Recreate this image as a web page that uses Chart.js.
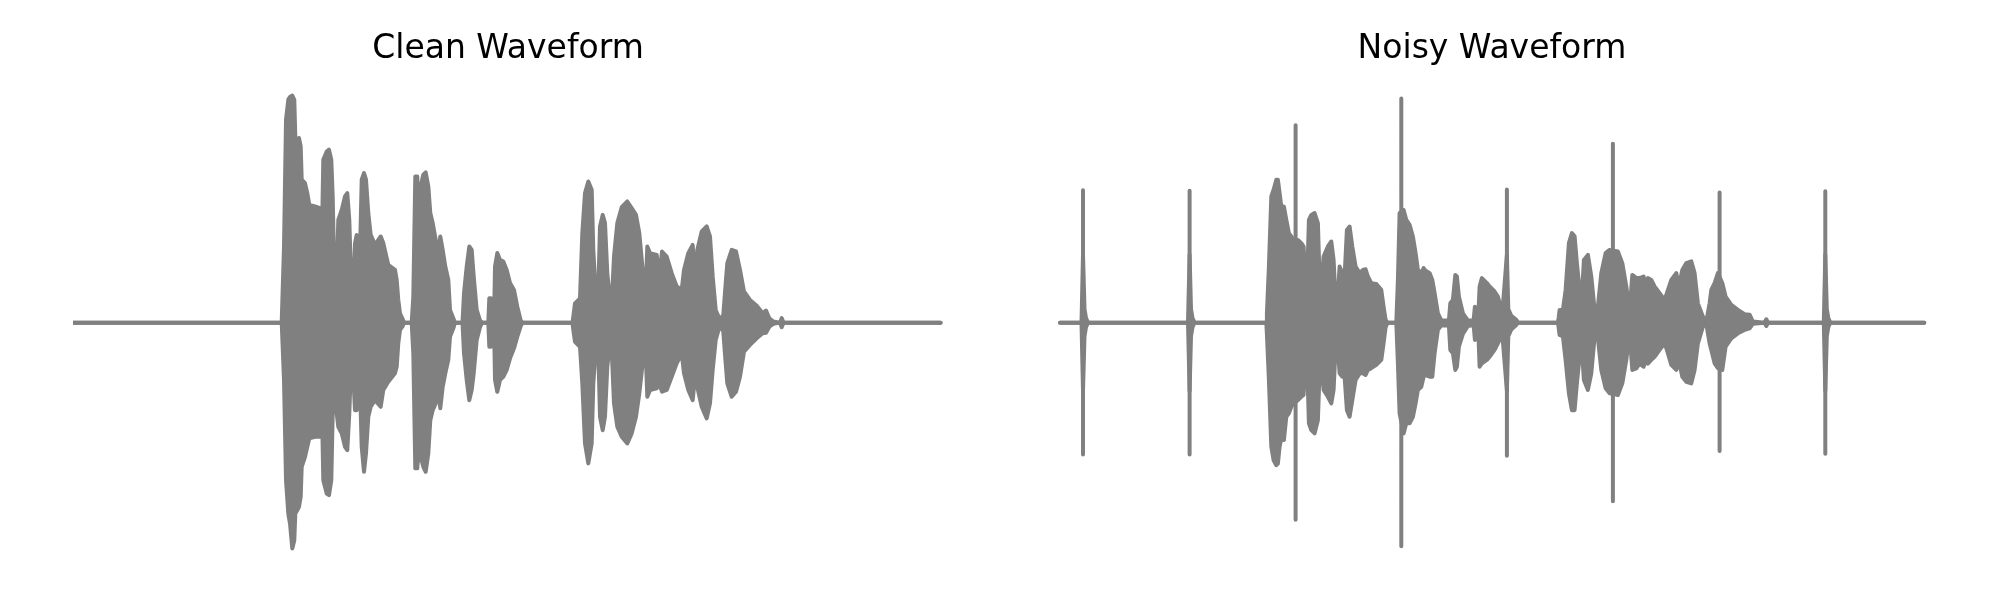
<!DOCTYPE html>
<html>
<head>
<meta charset="utf-8">
<script src="https://cdn.jsdelivr.net/npm/chart.js@4.4.1/dist/chart.umd.min.js"></script>
<style>
  html, body { margin: 0; padding: 0; background: #ffffff; }
  #wrap { position: relative; width: 2000px; height: 600px; background: #ffffff; overflow: hidden; }
  canvas { position: absolute; top: 0; }
</style>
</head>
<body>
<div id="wrap">
  <canvas id="clean" width="870" height="600" style="left:73px"></canvas>
  <canvas id="noisy" width="870" height="600" style="left:1057px"></canvas>
</div>
<script>
// ---- Clean waveform envelope (time in frames, normalized amplitude) ----
const cleanT = [1, 208.7, 211, 213, 215.3, 217, 219.3, 221.3, 222.3, 224.3, 226, 227.7, 228.7, 232, 234.3, 236.3, 242, 247, 248.3, 250.3, 253.7, 256, 258.3, 259.7, 261.3, 263.7, 265.3, 268.7, 272, 274.3, 276.3, 278.3, 280.3, 282, 283.7, 285.7, 287, 288.7, 291, 293, 295.3, 297.7, 302, 307.7, 310.3, 315.3, 322, 323.7, 325.3, 327, 329.7, 331, 338.7, 340.3, 342.3, 344.3, 345.3, 347.7, 350.3, 352.7, 355.3, 357.3, 359.7, 362.7, 365.3, 367.3, 369.7, 372.3, 375.3, 377, 380.3, 382, 389.5, 391, 393.7, 396.3, 398.7, 400.7, 403.7, 407, 409, 415.3, 416.3, 418, 419.3, 421, 422, 424.3, 427, 430.3, 433.7, 437, 441, 444.3, 447.7, 449.5, 499.5, 500.3, 502, 507, 509.3, 512, 515.3, 518.7, 520.3, 523, 525.3, 527, 529.7, 532, 534.3, 537, 538.7, 541, 544.3, 548.7, 554.3, 558.7, 563, 566.3, 569.7, 572.3, 574.3, 577, 583.7, 586.3, 589, 593.7, 598.7, 603.7, 608.7, 611, 615.3, 619.7, 622.3, 624.3, 628.7, 633.7, 637, 639.7, 642.7, 647, 650.3, 652.7, 654.3, 658.7, 663, 667, 671, 677, 683.7, 689.7, 693, 696.3, 700.3, 707, 708.7, 710.5, 867.6];
const cleanUpper = [0, 0, 0.335, 0.893, 0.981, 0.993, 0.999, 0.98, 0.82, 0.775, 0.812, 0.775, 0.629, 0.614, 0.57, 0.518, 0.511, 0.504, 0.218, 0.717, 0.753, 0.761, 0.717, 0.555, 0.218, 0.203, 0.452, 0.496, 0.555, 0.57, 0.452, 0.159, 0.13, 0.35, 0.386, 0.364, 0.306, 0.629, 0.658, 0.629, 0.482, 0.386, 0.342, 0.379, 0.35, 0.254, 0.232, 0.188, 0.1, 0.041, 0.015, 0, 0, 0.115, 0.643, 0.643, 0.452, 0.6, 0.651, 0.661, 0.6, 0.482, 0.438, 0.364, 0.306, 0.379, 0.32, 0.247, 0.188, 0.056, 0.019, 0, 0, 0.13, 0.247, 0.335, 0.32, 0.203, 0.056, 0.01, 0, 0, 0.107, 0.107, 0.01, 0, 0.247, 0.306, 0.276, 0.269, 0.232, 0.174, 0.144, 0.07, 0.01, 0, 0, 0.026, 0.085, 0.107, 0.394, 0.57, 0.621, 0.585, 0.32, 0.107, 0.144, 0.423, 0.474, 0.438, 0.218, 0.1, 0.085, 0.291, 0.438, 0.508, 0.533, 0.504, 0.474, 0.394, 0.232, 0.093, 0.335, 0.306, 0.298, 0.203, 0.313, 0.291, 0.218, 0.159, 0.144, 0.232, 0.306, 0.342, 0.159, 0.32, 0.401, 0.423, 0.379, 0.203, 0.056, 0.012, 0.034, 0.174, 0.262, 0.32, 0.313, 0.232, 0.137, 0.1, 0.074, 0.041, 0.053, 0.019, 0.005, 0, 0.02, 0, 0];
const cleanLower = [0, 0, -0.252, -0.693, -0.84, -0.884, -0.994, -0.957, -0.84, -0.825, -0.81, -0.767, -0.634, -0.59, -0.546, -0.509, -0.502, -0.502, -0.223, -0.693, -0.752, -0.759, -0.693, -0.399, -0.282, -0.399, -0.458, -0.487, -0.546, -0.561, -0.399, -0.15, -0.238, -0.385, -0.385, -0.341, -0.282, -0.546, -0.656, -0.575, -0.414, -0.37, -0.341, -0.37, -0.296, -0.26, -0.223, -0.194, -0.091, -0.032, -0.015, 0, 0, -0.135, -0.641, -0.641, -0.575, -0.59, -0.634, -0.656, -0.575, -0.429, -0.385, -0.355, -0.296, -0.377, -0.282, -0.223, -0.164, -0.062, -0.025, 0, 0, -0.135, -0.252, -0.341, -0.296, -0.223, -0.076, -0.02, 0, 0, -0.106, -0.106, -0.01, 0, -0.252, -0.304, -0.252, -0.238, -0.208, -0.157, -0.113, -0.062, -0.015, 0, 0, -0.032, -0.084, -0.106, -0.267, -0.531, -0.619, -0.531, -0.267, -0.106, -0.12, -0.414, -0.473, -0.414, -0.194, -0.091, -0.12, -0.355, -0.458, -0.502, -0.531, -0.487, -0.414, -0.311, -0.179, -0.084, -0.326, -0.296, -0.289, -0.267, -0.304, -0.296, -0.238, -0.179, -0.135, -0.223, -0.296, -0.341, -0.223, -0.282, -0.37, -0.421, -0.355, -0.208, -0.076, -0.01, -0.04, -0.179, -0.267, -0.326, -0.304, -0.238, -0.128, -0.098, -0.069, -0.047, -0.045, -0.018, -0.005, 0, -0.02, 0, 0];

// ---- Noisy waveform envelope ----
const noisyT = [3, 24.5, 26, 27.5, 29, 31, 131, 132.6, 134, 135.5, 137.5, 209.3, 209.9, 211.9, 214.3, 216.6, 219.3, 220.9, 222.6, 224.3, 226.9, 229.3, 231.9, 234.3, 236.6, 240.9, 244.3, 246.6, 248.6, 249.9, 251.9, 254.3, 257.6, 260.9, 262.6, 264.3, 266.6, 270.9, 274.3, 276.6, 278.6, 280.3, 282.6, 285.3, 287.6, 289.9, 292.6, 295.3, 298.6, 302.6, 305.9, 308.6, 310.9, 314.3, 319.3, 324.3, 326.6, 328.6, 330.5, 339.3, 340.9, 342.6, 346.6, 349.3, 352.6, 355.9, 358.6, 360.9, 364.3, 366.6, 368.3, 372.6, 375.3, 377.6, 380.9, 384.3, 391.9, 393.3, 395.9, 398.3, 399.9, 401.9, 405.9, 410.9, 416.6, 417.9, 419.9, 421, 422.6, 424.9, 429.9, 432.6, 437.6, 440.9, 445.3, 449.9, 451.3, 454.3, 459.3, 461, 500.9, 501.6, 502.6, 505.9, 508.6, 511.9, 514.9, 517.6, 519.9, 524.3, 526.9, 530.9, 534.3, 537.6, 540.9, 544.3, 548.6, 552.6, 560.9, 565.3, 569.3, 572.6, 575.3, 579.3, 582.6, 586.6, 588.6, 590.9, 594.3, 597.6, 602.6, 607.6, 609.9, 614.3, 619.3, 621.9, 625.3, 629.3, 634.3, 637.6, 640.9, 645.9, 649.3, 652.6, 654.3, 657.6, 660.9, 665.3, 668.6, 674.3, 680.9, 687.6, 692.6, 695.9, 707.5, 709.3, 711, 766.8, 768.3, 769.8, 771.3, 773.3, 867.3];
const noisyUpper = [0, 0, 0.3, 0.06, 0.02, 0, 0, 0.3, 0.06, 0.02, 0, 0, 0.041, 0.247, 0.555, 0.585, 0.629, 0.629, 0.57, 0.511, 0.511, 0.452, 0.394, 0.379, 0.364, 0.364, 0.35, 0.335, 0.159, 0.144, 0.452, 0.474, 0.482, 0.438, 0.188, 0.159, 0.291, 0.335, 0.357, 0.276, 0.1, 0.07, 0.247, 0.218, 0.203, 0.408, 0.423, 0.335, 0.247, 0.218, 0.232, 0.235, 0.203, 0.174, 0.17, 0.144, 0.07, 0.012, 0, 0, 0.188, 0.482, 0.496, 0.452, 0.43, 0.379, 0.306, 0.232, 0.218, 0.24, 0.23, 0.218, 0.188, 0.13, 0.041, 0.01, 0.01, 0.085, 0.1, 0.21, 0.203, 0.115, 0.041, 0.01, 0.01, 0.07, 0.005, 0, 0.159, 0.196, 0.174, 0.159, 0.137, 0.115, 0.041, 0.3, 0.06, 0.03, 0.012, 0, 0, 0.02, 0.056, 0.056, 0.144, 0.35, 0.394, 0.38, 0.262, 0.07, 0.276, 0.298, 0.203, 0.056, 0.07, 0.218, 0.306, 0.32, 0.313, 0.262, 0.159, 0.048, 0.21, 0.196, 0.196, 0.203, 0.159, 0.196, 0.188, 0.159, 0.13, 0.1, 0.13, 0.188, 0.218, 0.159, 0.232, 0.262, 0.27, 0.218, 0.085, 0.026, 0.005, 0.085, 0.144, 0.174, 0.218, 0.174, 0.115, 0.078, 0.056, 0.037, 0.035, 0.005, 0, 0.015, 0, 0, 0.3, 0.06, 0.02, 0, 0];
const noisyLower = [0, 0, -0.3, -0.06, -0.02, 0, 0, -0.3, -0.06, -0.02, 0, 0, -0.05, -0.252, -0.546, -0.605, -0.627, -0.62, -0.546, -0.509, -0.516, -0.414, -0.399, -0.37, -0.355, -0.341, -0.326, -0.318, -0.15, -0.135, -0.443, -0.473, -0.487, -0.429, -0.208, -0.18, -0.296, -0.326, -0.355, -0.296, -0.106, -0.076, -0.223, -0.238, -0.238, -0.385, -0.414, -0.341, -0.252, -0.223, -0.223, -0.23, -0.208, -0.2, -0.186, -0.164, -0.091, -0.02, 0, 0, -0.179, -0.399, -0.487, -0.443, -0.443, -0.414, -0.355, -0.296, -0.282, -0.238, -0.23, -0.238, -0.238, -0.135, -0.032, -0.012, -0.012, -0.12, -0.135, -0.208, -0.194, -0.106, -0.05, -0.015, -0.01, -0.076, -0.005, 0, -0.194, -0.179, -0.164, -0.15, -0.12, -0.091, -0.05, -0.3, -0.06, -0.03, -0.01, 0, 0, -0.02, -0.054, -0.06, -0.164, -0.311, -0.385, -0.385, -0.267, -0.076, -0.252, -0.296, -0.223, -0.062, -0.069, -0.208, -0.289, -0.311, -0.318, -0.267, -0.164, -0.047, -0.208, -0.201, -0.18, -0.194, -0.164, -0.18, -0.164, -0.15, -0.12, -0.091, -0.12, -0.186, -0.208, -0.164, -0.238, -0.26, -0.267, -0.208, -0.091, -0.018, -0.005, -0.091, -0.12, -0.179, -0.2, -0.208, -0.106, -0.069, -0.047, -0.032, -0.025, -0.005, 0, -0.015, 0, 0, -0.3, -0.06, -0.02, 0, 0];

// ---- Impulsive clicks in the noisy waveform ----
const spikeT = [26, 132.6, 238.6, 344.3, 449.9, 555.9, 662.6, 768.3];
const spikeUp = [0.582, 0.58, 0.868, 0.986, 0.586, 0.787, 0.572, 0.578];
const spikeDown = [-0.58, -0.58, -0.867, -0.984, -0.585, -0.786, -0.565, -0.577];

const titles = ["Clean Waveform", "Noisy Waveform"];

const GRAY = '#808080';

function zip(t, v) { return t.map((x, i) => ({ x: x, y: v[i] })); }

function spikeSegments(t, up, down) {
  const pts = [];
  t.forEach((x, i) => {
    pts.push({ x: x, y: up[i] });
    pts.push({ x: x, y: down[i] });
    pts.push({ x: x, y: null });
  });
  return pts;
}

function makeChart(id, title, t, upper, lower, extra) {
  const datasets = [
    { data: zip(t, upper), fill: '+1', backgroundColor: GRAY, borderColor: GRAY },
    { data: zip(t, lower), fill: false, borderColor: GRAY }
  ];
  if (extra) datasets.push(extra);
  return new Chart(document.getElementById(id), {
    type: 'line',
    data: { datasets: datasets },
    options: {
      responsive: false,
      animation: false,
      devicePixelRatio: 1,
      layout: { padding: { left: 0, right: 0, top: 0, bottom: 27.3 } },
      elements: {
        point: { radius: 0, hoverRadius: 0 },
        line: { tension: 0, borderWidth: 4, borderJoinStyle: 'round', borderCapStyle: 'round' }
      },
      plugins: {
        legend: { display: false },
        tooltip: { enabled: false },
        title: {
          display: true,
          text: title,
          color: '#000000',
          font: { family: "'DejaVu Sans', sans-serif", size: 33, weight: 'normal', lineHeight: 1.2 },
          padding: { top: 30, bottom: 3 }
        }
      },
      scales: {
        x: { type: 'linear', min: 0, max: 870, display: false },
        y: { type: 'linear', min: -1.1, max: 1.1, display: false }
      }
    }
  });
}

makeChart('clean', titles[0], cleanT, cleanUpper, cleanLower, null);
makeChart('noisy', titles[1], noisyT, noisyUpper, noisyLower, {
  data: spikeSegments(spikeT, spikeUp, spikeDown),
  fill: false,
  spanGaps: false,
  borderColor: GRAY,
  borderWidth: 4,
  borderCapStyle: 'round'
});
</script>
</body>
</html>
